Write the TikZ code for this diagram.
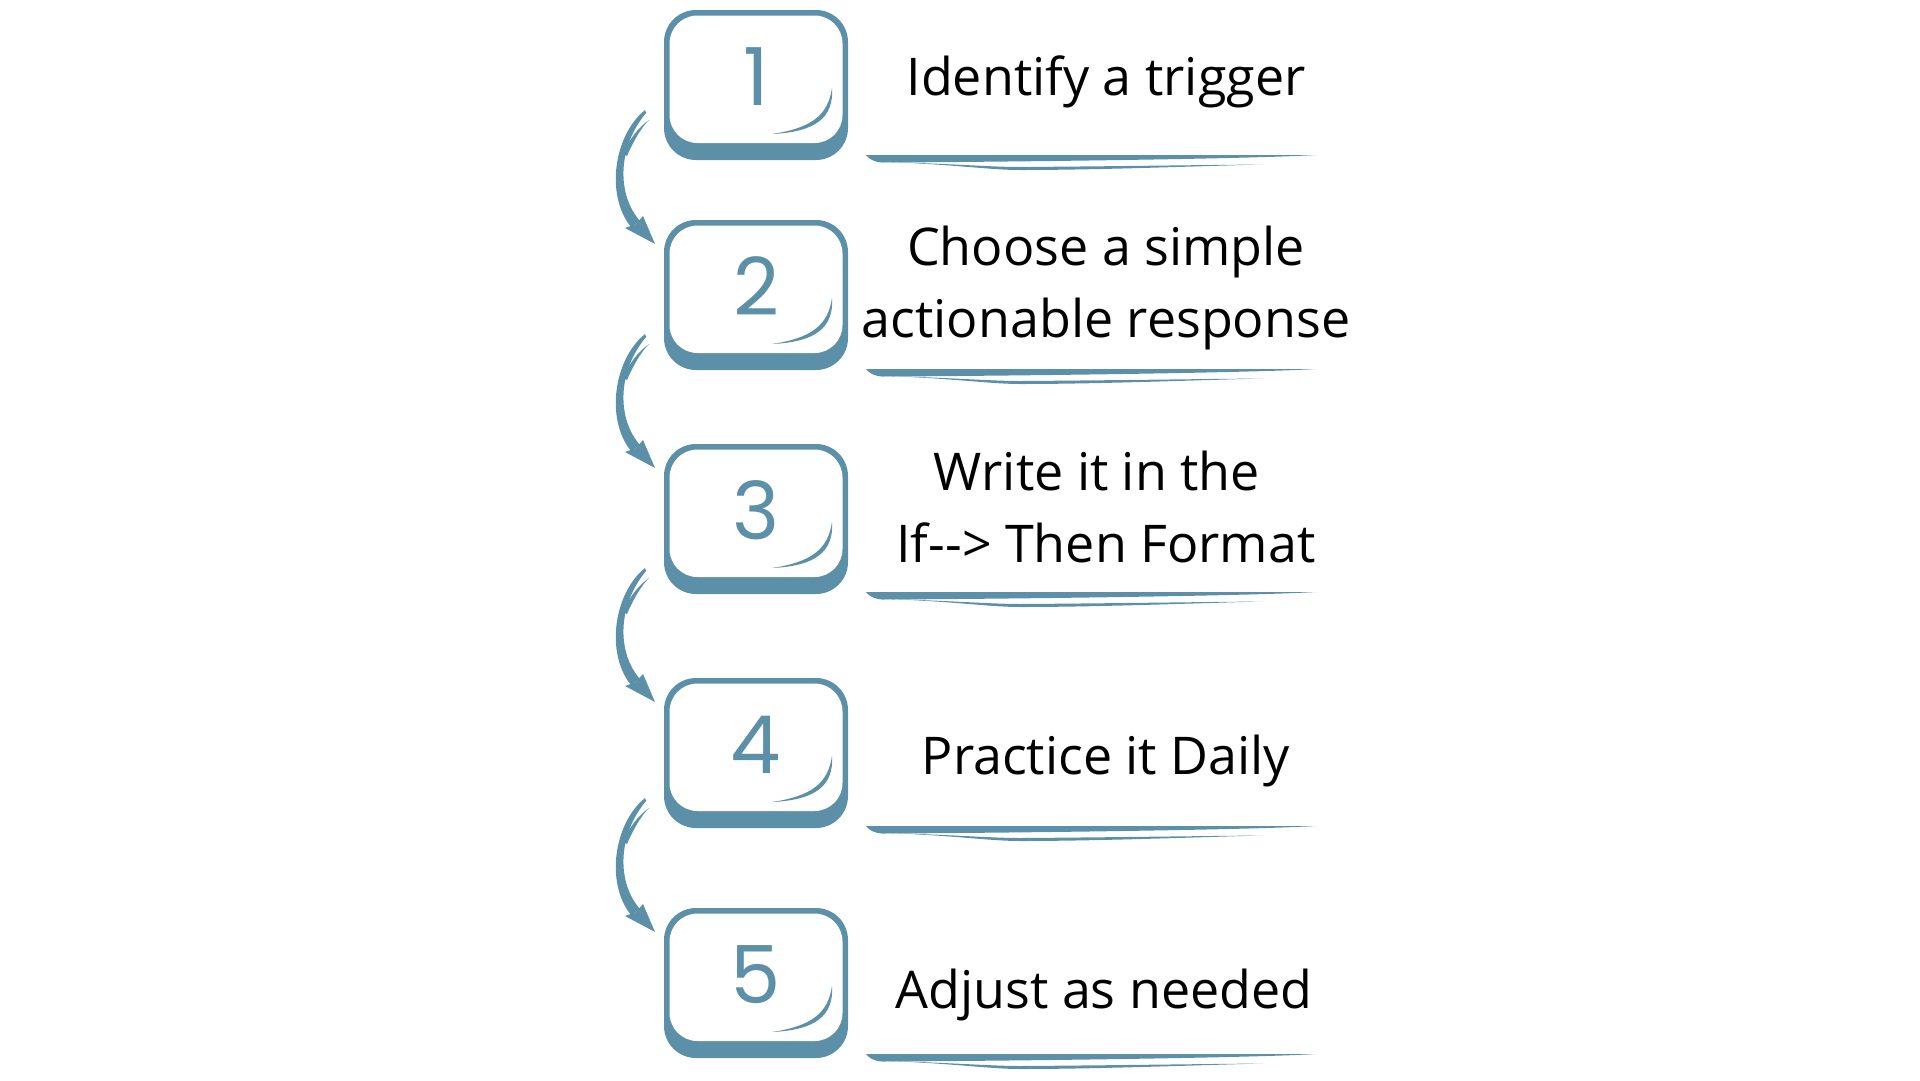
\documentclass[tikz,border=0pt]{standalone}
\usepackage{fontspec}
\setmainfont{Open Sans}
\newfontfamily\numfont{Poppins}
\definecolor{kblue}{HTML}{5C90A9}
\tikzset{
  numtext/.style={font=\numfont\fontsize{80}{80}\selectfont, text=kblue, anchor=base, inner sep=0pt},
  steptext/.style={font=\fontsize{52}{72}\selectfont, text=black, align=center, anchor=base, inner sep=0pt},
  ink/.style={fill=kblue, draw=none}
}
\begin{document}
\begin{tikzpicture}[x=1pt,y=-1pt]
\useasboundingbox (0,0) rectangle (1920,1080);
% boxes
\foreach \T/\n in {10/1,220/2,444/3,678/4,908/5}{
  \fill[kblue, rounded corners=32pt] (664,\T) rectangle (848,\T+150);
  \fill[white, rounded corners=28pt] (669.5,\T+5.5) rectangle (842.5,\T+133);
  \path[ink] (832,\T+78) .. controls (834,\T+108) and (815,\T+122) .. (772,\T+124)
        .. controls (812,\T+118) and (828,\T+105) .. (832,\T+78) -- cycle;
  \node[numtext] (num\n) at (756,\T+95) {\n};
}
% arrows
\foreach \T in {220,444,678,908}{
  \path[ink] (655,\T+24) -- (625,\T+8) -- (636,\T+4) -- (643,\T-4) -- cycle;
  \path[ink] (645,\T-110) .. controls (614,\T-85) and (605,\T-25) .. (631,\T+7)
        -- (640,\T+1) .. controls (617,\T-25) and (617,\T-72) .. (646,\T-107) -- cycle;
  \path[ink] (649,\T-100) .. controls (638,\T-92) and (630,\T-82) .. (623,\T-66)
        -- (627,\T-64) .. controls (634,\T-80) and (641,\T-92) .. (649,\T-100) -- cycle;
}
% underlines
\foreach \U in {155,369,592,826,1054}{
  \path[ink] (866,\U) -- (1316,\U) .. controls (1250,\U+4) and (1000,\U+7) .. (882,\U+7.5)
        .. controls (874,\U+7) and (869,\U+4) .. (866,\U) -- cycle;
  \path[ink] (885,\U+7) .. controls (950,\U+9) and (990,\U+15) .. (1020,\U+15)
        .. controls (1100,\U+15) and (1200,\U+11) .. (1263,\U+9.5)
        .. controls (1200,\U+10) and (1100,\U+11.5) .. (1020,\U+12)
        .. controls (990,\U+12) and (950,\U+8.5) .. (885,\U+7) -- cycle;
}
% texts (multi-line nodes: base anchor is at the last line)
\node[steptext] (t1) at (1106,95) {Identify a trigger};
\node[steptext] (t2) at (1106,337) {Choose a simple\\actionable response};
\node[steptext] (t3) at (1106,562) {Write it in the\hspace*{18pt}\\If-\kern0pt-> Then Format};
\node[steptext] (t4) at (1106,774) {Practice it Daily};
\node[steptext] (t5) at (1104,1008) {Adjust as needed};
\end{tikzpicture}
\end{document}
